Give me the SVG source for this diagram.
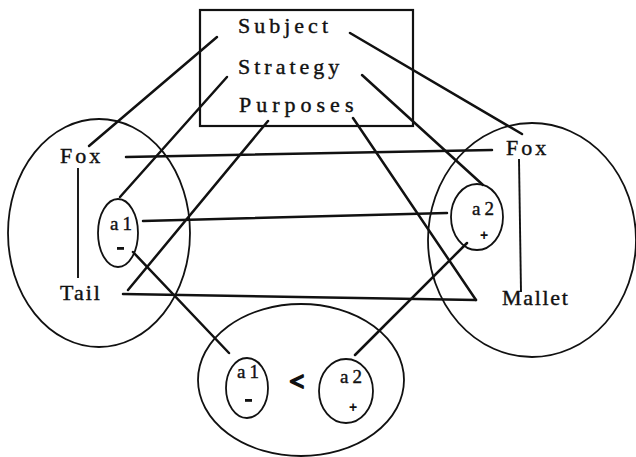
<svg xmlns="http://www.w3.org/2000/svg" width="636" height="457" viewBox="0 0 636 457">
<style>
.shape{fill:none;stroke:#111;stroke-width:1.8}
.box{fill:none;stroke:#111;stroke-width:2.2}
.ln{stroke:#111;stroke-width:2.5;fill:none;stroke-linecap:round}
.thin{stroke:#111;stroke-width:1.9;fill:none}
.lbl{font-family:"Liberation Serif",serif;font-size:22px;fill:#111;stroke:#111;stroke-width:0.4}
.sm{font-family:"Liberation Serif",serif;font-size:19px;fill:#111;stroke:#111;stroke-width:0.4;letter-spacing:4px}
.plus{font-family:"Liberation Sans",sans-serif;font-size:14px;font-weight:bold;fill:#111}
</style>
<rect fill="#fff" width="636" height="457"/>
<g id="purpose-box">
<rect class="box" x="200" y="10" width="213" height="116"/>
<text class="lbl" x="238" y="33" letter-spacing="4">Subject</text>
<text class="lbl" x="238" y="74" letter-spacing="4">Strategy</text>
<text class="lbl" x="239" y="112" letter-spacing="5">Purposes</text>
</g>
<g id="left-domain">
<ellipse class="shape" cx="99" cy="233" rx="91" ry="114"/>
<text class="lbl" x="60" y="163" letter-spacing="3">Fox</text>
<text class="lbl" x="60" y="300" letter-spacing="2">Tail</text>
<line class="thin" x1="78" y1="168" x2="78" y2="278"/>
</g>
<g id="left-a1">
<ellipse class="shape" cx="118" cy="233" rx="20" ry="34"/>
<text class="sm" x="110" y="230">a1</text>
<rect x="117" y="247" width="7" height="2.8" fill="#111"/>
</g>
<g id="right-domain">
<ellipse class="shape" cx="532" cy="240" rx="104" ry="117"/>
<text class="lbl" x="506" y="155" letter-spacing="3">Fox</text>
<text class="lbl" x="502" y="305" letter-spacing="1.7">Mallet</text>
<line class="thin" x1="519" y1="159" x2="521" y2="292"/>
</g>
<g id="right-a2">
<ellipse class="shape" cx="477" cy="217" rx="26" ry="33"/>
<text class="sm" x="472" y="215">a2</text>
<text class="plus" x="484" y="240" text-anchor="middle">+</text>
</g>
<g id="comparison">
<ellipse class="shape" cx="301" cy="380" rx="103" ry="76"/>
<text x="297" y="390" text-anchor="middle" font-family="Liberation Serif" font-size="26" font-weight="bold" fill="#111" stroke="#111" stroke-width="2" stroke-linejoin="round">&lt;</text>
</g>
<g id="bottom-a1">
<ellipse class="shape" cx="247" cy="388" rx="21" ry="30"/>
<text class="sm" x="237" y="378">a1</text>
<rect x="245" y="399" width="7" height="2.8" fill="#111"/>
</g>
<g id="bottom-a2">
<ellipse class="shape" cx="346" cy="391" rx="27" ry="32"/>
<text class="sm" x="340" y="383">a2</text>
<text class="plus" x="353" y="412" text-anchor="middle">+</text>
</g>
<g id="connectors">
<line class="ln" x1="217" y1="37" x2="89" y2="146"/>
<line class="ln" x1="227" y1="77" x2="120" y2="197"/>
<line class="ln" x1="268" y1="121" x2="128" y2="290"/>
<line class="ln" x1="350" y1="33" x2="522" y2="134"/>
<line class="ln" x1="362" y1="75" x2="483" y2="185"/>
<line class="ln" x1="353" y1="118" x2="476" y2="300"/>
<line class="ln" x1="126" y1="157" x2="492" y2="150"/>
<line class="ln" x1="143" y1="221" x2="447" y2="213"/>
<line class="ln" x1="123" y1="294" x2="476" y2="300"/>
<line class="ln" x1="133" y1="252" x2="229" y2="353"/>
<line class="ln" x1="467" y1="243" x2="355" y2="355"/>
</g>
</svg>
